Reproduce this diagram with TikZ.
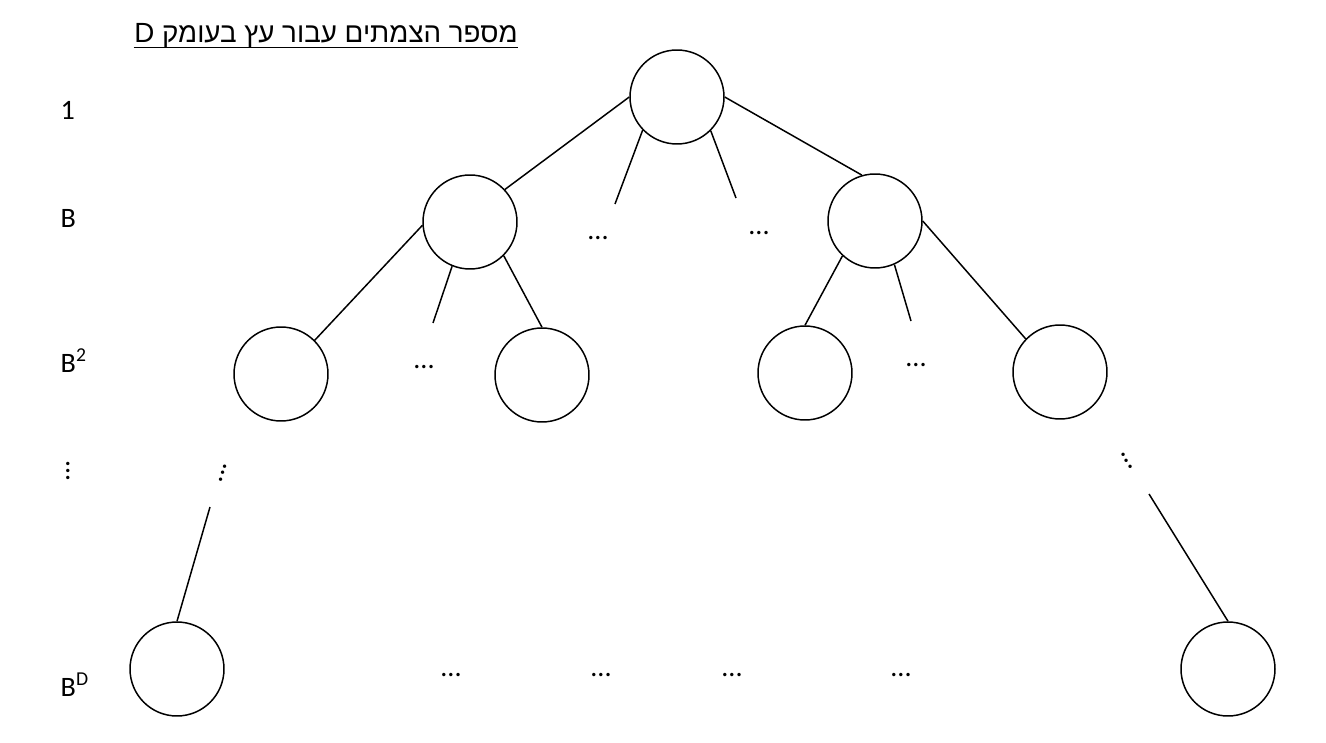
\documentclass[tikz,border=0pt]{standalone}
\usepackage{fontspec}
\setmainfont{Carlito}
\newfontfamily\hebfont[Script=Hebrew]{Liberation Sans}
\TeXXeTstate=1

\begin{document}
\begin{tikzpicture}[x=0.02cm, y=-0.02cm, line width=0.85pt,
    vertex/.style={draw, circle, minimum size=1.88cm, inner sep=0pt},
    lbl/.style={anchor=west, inner sep=0pt, font=\fontsize{16}{19}\selectfont},
    dots/.style={inner sep=0pt, font=\fontsize{16}{19}\selectfont}]
  \useasboundingbox (0,0) rectangle (1326,743);

  % title
  \node[inner sep=0pt, font=\hebfont\fontsize{15.8}{19}\selectfont] (title) at (326,36)
    {\beginR מספר הצמתים עבור עץ בעומק D\endR};
  \draw[line width=1.1pt] ([yshift=-2.6pt]title.base west) -- ([yshift=-2.6pt]title.base east);

  % level labels
  \node[lbl] (l0) at (60,110) {1};
  \node[lbl] (l1) at (60,218) {B};
  \node[lbl] (l2) at (60,361) {B\textsuperscript{2}};
  \node[dots, rotate=90] (lv) at (68,471) {...};
  \node[lbl] (lD) at (60,685) {B\textsuperscript{D}};

  % nodes
  \node[vertex] (root) at (677,97) {};
  \node[vertex] (a) at (470,222) {};
  \node[vertex] (b) at (875,221) {};
  \node[vertex] (aa) at (281,374) {};
  \node[vertex] (ab) at (542,375) {};
  \node[vertex] (ba) at (805,373) {};
  \node[vertex] (bb) at (1060,372) {};
  \node[vertex] (leafL) at (177,669) {};
  \node[vertex] (leafR) at (1228,669) {};

  % loose ends
  \coordinate (s1) at (615,204);
  \coordinate (s2) at (736,198);
  \coordinate (s3) at (433,323);
  \coordinate (s4) at (911,321);
  \coordinate (s5) at (210,507);
  \coordinate (s6) at (1149,494);

  % edges
  \draw (root.180) -- (a.43);
  \draw (root.0) -- (b.106);
  \draw (root.-136) -- (s1);
  \draw (root.-45) -- (s2);
  \draw (a.184) -- (aa.45);
  \draw (a.-112) -- (s3);
  \draw (a.-45) -- (ab.90);
  \draw (b.-133) -- (ba.90);
  \draw (b.-66) -- (s4);
  \draw (b.0) -- (bb.136);
  \draw (s5) -- (leafL.90);
  \draw (s6) -- (leafR.90);

  % dots
  \node[dots] (d1) at (598,238) {...};
  \node[dots] (d2) at (759,233) {...};
  \node[dots] (d3) at (424,367) {...};
  \node[dots] (d4) at (916,365) {...};
  \node[dots, rotate=74] (d5) at (223,473) {...};
  \node[dots, rotate=-60] (d6) at (1127,461) {...};
  \foreach \x/\n in {451/e1, 601/e2, 732/e3, 901/e4}
    \node[dots] (\n) at (\x,675) {...};
\end{tikzpicture}
\end{document}
